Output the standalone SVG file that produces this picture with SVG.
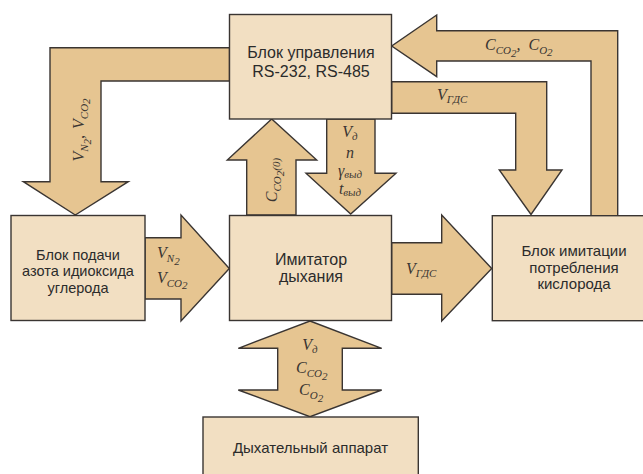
<svg xmlns="http://www.w3.org/2000/svg" width="643" height="474" viewBox="0 0 643 474">
<style>
.ar{fill:#e6c591;stroke:#3a3532;stroke-width:1.4;stroke-linejoin:miter}
.bx{fill:#f2dfc2;stroke:#3a3532;stroke-width:1.4}
.t{font-family:"Liberation Sans",Arial,sans-serif;fill:#2b2b2b;text-anchor:middle}
.m{font-family:"Liberation Serif","Times New Roman",serif;font-style:italic;fill:#3a3532;font-size:16px}
.s{font-size:11px}
</style>
<rect width="643" height="474" fill="#ffffff"/>
<g id="connectors">
<polygon class="ar" points="229.5,47.7 50,47.7 50,181.7 23.3,181.7 75.3,215 128.3,181.7 101,181.7 101,81 229.5,81"/>
<polygon class="ar" points="246.7,215 246.7,160 227.3,160 271.7,119 316.7,160 296,160 296,215"/>
<polygon class="ar" points="326.7,119 326.7,173.3 306,173.3 350.7,214 396,173.3 375,173.3 375,119"/>
<polygon class="ar" points="391.7,81.7 546.7,81.7 546.7,170 562,170 531,214.5 499.3,170 515.7,170 515.7,113.3 391.7,113.3"/>
<polygon class="ar" points="591,215.7 591,61 436.7,61 436.7,76.7 391.7,46 436.7,15 436.7,30.7 617.7,30.7 617.7,215.7"/>
<polygon class="ar" points="145,237.7 181,237.7 181,215 229.3,268.5 181,321 181,299 145,299"/>
<polygon class="ar" points="391.7,242.7 441.7,242.7 441.7,215 491.7,268.5 441.7,321 441.7,294.3 391.7,294.3"/>
<polygon class="ar" points="310,321 381.7,348.3 342.3,348.3 342.3,390 381.7,390 310,416.7 238.3,390 277.7,390 277.7,348.3 238.3,348.3"/>
<text class="m" transform="translate(84,130) rotate(-90)" text-anchor="middle">V<tspan class="s" dy="4">N</tspan><tspan class="s" dy="3">2</tspan><tspan dy="-7">, </tspan><tspan dx="2">V</tspan><tspan class="s" dy="4">CO</tspan><tspan class="s" dy="2">2</tspan></text>
<text class="m" transform="translate(277,180) rotate(-90)" text-anchor="middle" font-size="17">C<tspan class="s" dy="4">CO</tspan><tspan class="s" dy="3">2</tspan><tspan class="s" dy="-4">(0)</tspan></text>
<text class="m" x="350" y="137" text-anchor="middle">V<tspan class="s" dy="3">д</tspan></text>
<text class="m" x="350" y="158" text-anchor="middle">n</text>
<text class="m" x="350" y="176" text-anchor="middle">γ<tspan class="s" dy="2">выд</tspan></text>
<text class="m" x="350" y="194" text-anchor="middle">t<tspan class="s" dy="2">выд</tspan></text>
<text class="m" x="485" y="49.5">C<tspan class="s" dy="4">CO</tspan><tspan class="s" dy="3">2</tspan><tspan dy="-7">,</tspan><tspan dx="8">C</tspan><tspan class="s" dy="4">O</tspan><tspan class="s" dy="2">2</tspan></text>
<text class="m" x="437" y="100">V<tspan class="s" dy="3">ГДС</tspan></text>
<text class="m" x="157" y="258">V<tspan class="s" dy="4">N</tspan><tspan class="s" dy="3">2</tspan></text>
<text class="m" x="157" y="283">V<tspan class="s" dy="4">CO</tspan><tspan class="s" dy="2">2</tspan></text>
<text class="m" x="406" y="274">V<tspan class="s" dy="3">ГДС</tspan></text>
<text class="m" x="310" y="349.5" text-anchor="middle">V<tspan class="s" dy="3">д</tspan></text>
<text class="m" x="296" y="373">C<tspan class="s" dy="4">CO</tspan><tspan class="s" dy="3">2</tspan></text>
<text class="m" x="299" y="395">C<tspan class="s" dy="4">O</tspan><tspan class="s" dy="3">2</tspan></text>
</g>
<g id="control">
<rect class="bx" x="229.5" y="14.5" width="162" height="104.5"/>
<text class="t" x="311" y="58" font-size="16">Блок управления</text>
<text class="t" x="311" y="76.5" font-size="16">RS-232, RS-485</text>
</g>
<g id="supply">
<rect class="bx" x="11" y="215.5" width="134" height="105"/>
<text class="t" x="78" y="259.5" font-size="14.5">Блок подачи</text>
<text class="t" x="78" y="276" font-size="14.5">азота идиоксида</text>
<text class="t" x="78" y="292.5" font-size="14.5">углерода</text>
</g>
<g id="imitator">
<rect class="bx" x="229.5" y="215.5" width="162" height="105"/>
<text class="t" x="311" y="265" font-size="16">Имитатор</text>
<text class="t" x="311" y="282" font-size="16">дыхания</text>
</g>
<g id="oxygen">
<rect class="bx" x="492.3" y="215.7" width="160" height="105"/>
<text class="t" x="574" y="256" font-size="15">Блок имитации</text>
<text class="t" x="574" y="272.7" font-size="15">потребления</text>
<text class="t" x="574" y="289.3" font-size="15">кислорода</text>
</g>
<g id="apparatus">
<rect class="bx" x="203" y="417" width="215.3" height="70"/>
<text class="t" x="310.5" y="453.3" font-size="15">Дыхательный аппарат</text>
</g>
</svg>
